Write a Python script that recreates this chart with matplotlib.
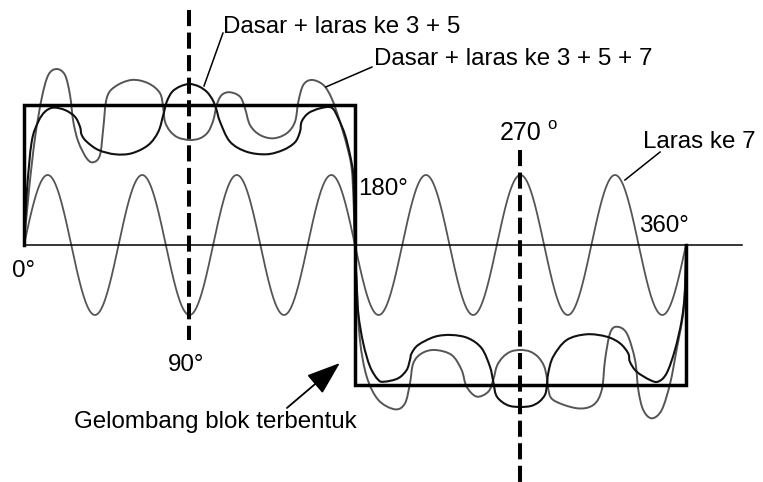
import numpy as np
import matplotlib
matplotlib.use('Agg')
import matplotlib.pyplot as plt
from matplotlib.path import Path
from matplotlib.patches import PathPatch, ArrowStyle

plt.rcParams['font.family'] = ['Liberation Sans', 'DejaVu Sans']

# ---------------- data (x in degrees, y in units of square-wave amplitude) ----------------
square_deg = [0, 0, 180, 180, 360, 360]
square_amp = [0, 1, 1, -1, -1, 0]

harmonic7_order = 7
harmonic7_amp = 0.5

# "Dasar + laras ke 3 + 5"
sum35_deg = [0, 1.63, 4.19, 7.78, 11.42, 15.93, 22.30, 27.73, 30.45, 31.38, 34.10, 40.41,
             49.49, 58.57, 67.60, 73.03, 75.75, 77.56, 80.5, 84.8, 90.0, 95.2, 99.5, 102.6,
             104.6, 106.6, 112.0, 121.1, 132.0, 141.0, 147.4, 150.1, 151.0, 154.6, 161.0,
             167.3, 170.9, 174.6, 177.3, 179.1, 179.6, 180.0,
             180.8, 181.8, 184.5, 188.2, 192.7, 196.3, 203.5, 208.1, 209.9, 210.8, 214.4,
             223.5, 232.6, 241.6, 248.9, 253.4, 255.2, 256.7, 260.0, 264.3, 270.0, 275.7,
             280.1, 283.3, 284.3, 285.1, 287.8, 295.1, 306.0, 316.9, 324.1, 328.6, 329.5,
             333.2, 340.4, 344.9, 349.5, 354.0, 357.7, 359.5, 360.0]
sum35_amp = [0, 0.393, 0.738, 0.881, 0.952, 0.981, 0.964, 0.916, 0.845, 0.786, 0.738, 0.679,
             0.648, 0.655, 0.714, 0.809, 0.929, 1.021, 1.093, 1.132, 1.150, 1.132, 1.093, 1.036,
             0.970, 0.881, 0.738, 0.666, 0.648, 0.679, 0.734, 0.809, 0.881, 0.941, 0.976,
             0.981, 0.905, 0.786, 0.643, 0.500, 0.250, 0.000,
             -0.250, -0.488, -0.702, -0.869, -0.964, -0.976, -0.952, -0.893, -0.821, -0.774, -0.714,
             -0.655, -0.643, -0.666, -0.738, -0.869, -0.976, -1.071, -1.121, -1.150, -1.157, -1.150,
             -1.121, -1.071, -1.012, -0.916, -0.798, -0.679, -0.638, -0.655, -0.702, -0.774, -0.834,
             -0.905, -0.964, -0.976, -0.916, -0.750, -0.536, -0.321, 0.000]

# "Dasar + laras ke 3 + 5 + 7"
sum357_deg = [0, 2.72, 5.98, 9.63, 13.21, 17.78, 22.30, 25.02, 26.81, 29.53, 34.10, 37.69,
              41.33, 43.12, 44.97, 49.49, 58.57, 67.60, 73.96, 75.75, 76.68, 79.4, 83.7, 90.0,
              95.7, 100.1, 103.0, 104.8, 107.5, 112.0, 117.5, 120.2, 122.9, 128.3, 135.6, 142.9,
              147.4, 149.2, 151.9, 156.5, 162.8, 167.3, 171.8, 175.5, 178.2, 179.3, 180.0,
              181.1, 182.7, 186.4, 192.7, 201.8, 207.2, 209.9, 211.7, 216.3, 223.5, 232.6,
              238.0, 240.7, 246.2, 252.5, 255.2, 257.2, 260.5, 264.8, 270.0, 275.2, 279.6,
              282.8, 284.4, 285.0, 287.8, 300.6, 309.6, 314.2, 316.0, 318.7, 322.3, 327.8,
              332.3, 334.1, 336.8, 341.4, 346.8, 351.4, 354.9, 358.5, 359.6, 360.0]
sum357_amp = [0, 0.393, 0.764, 1.048, 1.214, 1.257, 1.214, 1.071, 0.881, 0.738, 0.619, 0.591,
              0.643, 0.834, 1.048, 1.131, 1.179, 1.155, 1.084, 0.976, 0.881, 0.814, 0.768, 0.750,
              0.762, 0.807, 0.893, 1.000, 1.071, 1.091, 1.059, 0.976, 0.857, 0.786, 0.762, 0.798,
              0.881, 1.024, 1.143, 1.179, 1.143, 1.048, 0.881, 0.714, 0.548, 0.286, 0.000,
              -0.321, -0.679, -0.941, -1.107, -1.174, -1.131, -0.988, -0.845, -0.774, -0.750, -0.786,
              -0.893, -1.012, -1.083, -1.048, -0.964, -0.864, -0.800, -0.761, -0.750, -0.761, -0.800,
              -0.864, -0.950, -1.020, -1.107, -1.166, -1.143, -1.036, -0.821, -0.631, -0.584, -0.631,
              -0.821, -1.036, -1.179, -1.238, -1.179, -0.988, -0.750, -0.488, -0.250, 0.000]

axis_end_deg = 390.3
marker_deg = [90, 270]
marker_span = [(1.68, -0.68), (0.68, -1.75)]

label_sum35 = "Dasar + laras ke 3 + 5"
label_sum357 = "Dasar + laras ke 3 + 5 + 7"
label_h7 = "Laras ke 7"
label_block = "Gelombang blok terbentuk"
angle_labels = ["0°", "90°", "180°", "360°"]


def smooth_path(xs, ys):
    P = np.column_stack([xs, ys]).astype(float)
    n = len(P)
    verts = [P[0]]
    codes = [Path.MOVETO]
    for i in range(n - 1):
        p0 = P[i - 1] if i > 0 else P[i]
        p1 = P[i]
        p2 = P[i + 1]
        p3 = P[i + 2] if i + 2 < n else P[i + 1]
        c1 = p1 + (p2 - p0) / 6.0
        c2 = p2 - (p3 - p1) / 6.0
        verts += [c1, c2, p2]
        codes += [Path.CURVE4] * 3
    return Path(verts, codes)


fig = plt.figure(figsize=(7.63, 4.82), dpi=100)
ax = fig.add_axes([0, 0, 1, 1])
ax.set_xlim(-13.05, 401.9)
ax.set_ylim(-1.693, 1.75)
ax.axis('off')

# 7th harmonic
xh = np.linspace(0, 360, 2001)
ax.plot(xh, harmonic7_amp * np.sin(harmonic7_order * np.radians(xh)),
        color='#555555', lw=1.3, solid_capstyle='round')

# sums
ax.add_patch(PathPatch(smooth_path(sum357_deg, sum357_amp), fill=False,
                       edgecolor='#555555', lw=1.4))
ax.add_patch(PathPatch(smooth_path(sum35_deg, sum35_amp), fill=False,
                       edgecolor='#111111', lw=1.5))

# square wave
ax.plot(square_deg, square_amp, color='black', lw=2.5, solid_joinstyle='miter')

# horizontal axis
ax.plot([0, axis_end_deg], [0, 0], color='black', lw=1.1)

# dashed markers at 90 and 270
for d, (y0, y1) in zip(marker_deg, marker_span):
    ax.plot([d, d], [y0, y1], color='black', lw=2.9, linestyle=(0, (4, 1.6)))

fs = 17.4
# labels
ax.text(108.2, 1.514, label_sum35, fontsize=fs, va='baseline', ha='left')
ax.plot([108.2, 97.9], [1.514, 1.136], color='black', lw=1.1)
ax.text(190.3, 1.286, label_sum357, fontsize=fs, va='baseline', ha='left')
ax.plot([189.2, 164.2], [1.271, 1.129], color='black', lw=1.1)
ax.text(336.6, 0.693, label_h7, fontsize=fs, va='baseline', ha='left')
ax.plot([345.9, 326.8], [0.664, 0.464], color='black', lw=1.1)

# angle labels
ax.text(-6.5, -0.229, angle_labels[0], fontsize=fs, va='baseline', ha='left')
ax.text(78.3, -0.900, angle_labels[1], fontsize=fs, va='baseline', ha='left')
ax.text(181.6, 0.357, angle_labels[2], fontsize=fs, va='baseline', ha='left')
ax.text(334.4, 0.093, angle_labels[3], fontsize=fs, va='baseline', ha='left')
ax.text(258.9, 0.750, "270", fontsize=fs + 0.6, va='baseline', ha='left')
ax.text(284.6, 0.830, "o", fontsize=12, va='baseline', ha='left')

# arrow + block-wave label
ax.annotate("", xy=(171.8, -0.843), xytext=(143.0, -1.164),
            arrowprops=dict(arrowstyle=ArrowStyle('-|>', head_length=1.4, head_width=0.5),
                            mutation_scale=15, color='black', lw=1.3,
                            shrinkA=0, shrinkB=0))
ax.text(27.2, -1.307, label_block, fontsize=fs, va='baseline', ha='left')

fig.savefig('out.png', dpi=100)
